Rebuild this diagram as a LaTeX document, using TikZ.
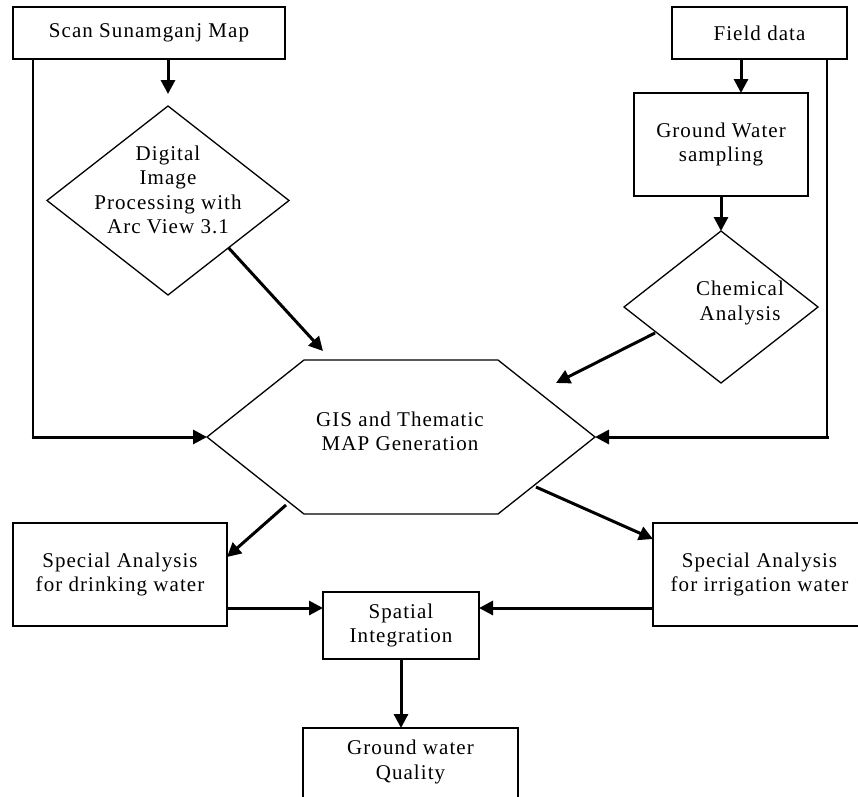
\documentclass[tikz,border=0pt]{standalone}
\usepackage{fontspec}
\setmainfont[LetterSpace=5]{Liberation Serif}
\usetikzlibrary{arrows.meta,shapes.geometric,calc}
\begin{document}
\begin{tikzpicture}[x=1pt,y=-1pt,
  box/.style={draw,line width=1.3pt,rectangle,inner sep=0pt,outer sep=0pt,align=center,font=\fontsize{21}{24.5}\selectfont},
  dia/.style={draw,line width=1.3pt,diamond,inner sep=0pt,outer sep=0pt},
  lbl/.style={align=center,inner sep=0pt,font=\fontsize{21}{24.5}\selectfont},
  flow/.style={line width=3pt,-{Triangle[length=14pt,width=14pt]}},
  plain/.style={line width=1.5pt},
  edge/.style={line width=1.3pt}]
\useasboundingbox (0,0) rectangle (858,796);
\begin{scope}
\clip (0,0) rectangle (858,796);
% boxes
\node[box,minimum width=272pt,minimum height=52pt] (scan) at (149,33) {Scan Sunamganj Map};
\node[box,minimum width=175pt,minimum height=52pt] (field) at (759.5,33) {Field data};
\node[box,minimum width=174pt,minimum height=103pt] (gw) at (721,144.5) {Ground Water\\sampling};
\node[dia,minimum width=242pt,minimum height=189pt] (dip) at (168,200.5) {};
\node[lbl] (diptext) at (168,190) {Digital\\Image\\Processing with\\Arc View 3.1};
\node[dia,minimum width=194pt,minimum height=152pt] (chem) at (721,307) {};
\node[lbl] (chemtext) at (740,303) {Chemical\\Analysis};
% hexagon
\node[inner sep=0pt,outer sep=0pt,minimum width=388pt,minimum height=154pt] (hex) at (401,437) {};
\draw[edge] ([xshift=-97pt]hex.north) -- ([xshift=97pt]hex.north) -- (hex.east)
  -- ([xshift=97pt]hex.south) -- ([xshift=-97pt]hex.south) -- (hex.west) -- cycle;
\node[lbl] (hextext) at (400,431.5) {GIS and Thematic\\MAP Generation};
\node[box,minimum width=214pt,minimum height=103pt] (drink) at (120,574.5) {Special Analysis\\for drinking water};
\node[box,minimum width=213pt,minimum height=103pt] (irr) at (759.5,574.5) {Special Analysis\\for irrigation water};
\node[box,minimum width=156pt,minimum height=67pt] (spat) at (401,625.5) {Spatial\\Integration};
\node[box,minimum width=215pt,minimum height=102pt] (gwq) at (410.5,779) {};
\node[lbl] (gwqtext) at (410.5,762) {Ground water\\Quality};
% coordinates
\coordinate (lc) at (33,437);
\coordinate (rc) at (827,437);
\coordinate (dipend) at (323,351);
\coordinate (chemstart) at (655,333);
\coordinate (chemend) at (556,383);
\coordinate (hexdl) at (286,505);
\coordinate (drinkin) at (227,557);
\coordinate (hexdr) at (536,487);
\coordinate (irrin) at (653,539);
% connectors
\draw[flow] (scan.south -| dip.north) -- ([yshift=12pt]dip.north);
\draw[flow] ([xshift=-18.5pt]field.south) -- ([xshift=-18.5pt]field.south |- gw.north);
\draw[flow] (gw.south) -- (chem.north);
\draw[flow] ($(dip.east)!0.5!(dip.south)$) -- (dipend);
\draw[flow] (chemstart) -- (chemend);
\draw[plain] (scan.south west -| lc) -- (lc);
\draw[flow] ([xshift=-1.5pt]lc) -- (hex.west);
\draw[plain] (field.south east -| rc) -- (rc);
\draw[flow] ([xshift=1.5pt]rc) -- (hex.east);
\draw[flow] (hexdl) -- (drinkin);
\draw[flow] (hexdr) -- (irrin);
\draw[flow] (drink.east |- 0,608) -- (spat.west |- 0,608);
\draw[flow] (irr.west |- 0,608) -- (spat.east |- 0,608);
\draw[flow] (spat.south) -- (spat.south |- gwq.north);
\end{scope}
\end{tikzpicture}
\end{document}
